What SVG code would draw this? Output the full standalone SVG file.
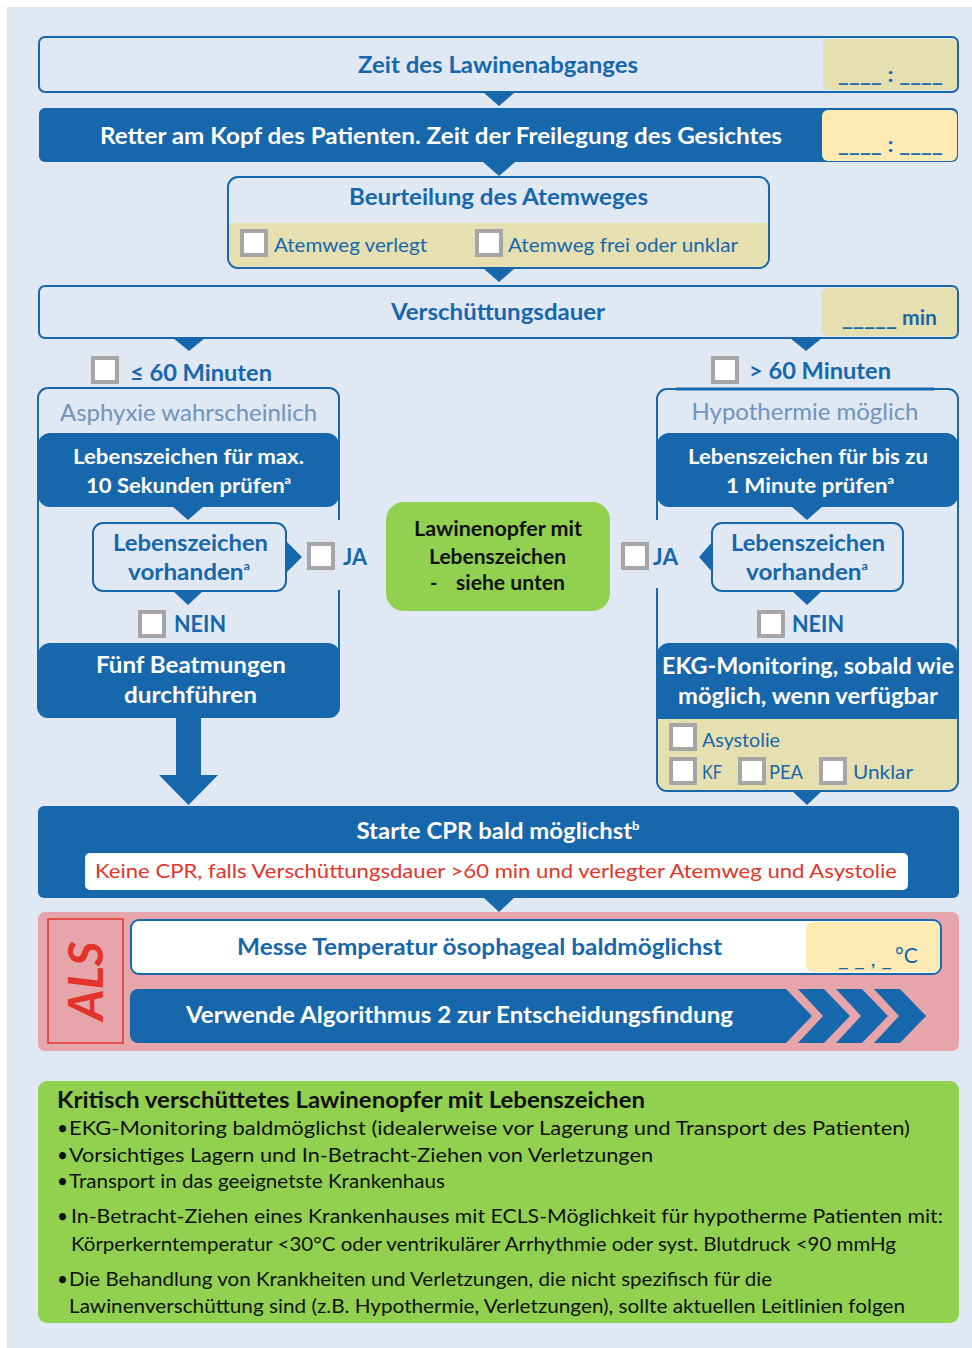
<svg xmlns="http://www.w3.org/2000/svg" width="972" height="1348" viewBox="0 0 972 1348">
<defs>
<style>
.t{font-family:Lato,"Open Sans","Liberation Sans",sans-serif}
.b{font-weight:bold}
.blue{fill:#1767ad}
.white{fill:#ffffff}
.pale{fill:#6f95bd}
.black{fill:#111111}
.red{fill:#e3342a}
.mid{text-anchor:middle}
.frame{fill:#dfe8f3;stroke:#1767ad;stroke-width:2}
.dark{fill:#1767ad}
.khaki{fill:#e6dfb0}
.yel{fill:#fdebb3}
.cb{fill:#ffffff;stroke:#a6a6a6;stroke-width:4}
.tri{fill:#1767ad}
</style>
</defs>
<rect x="7" y="7" width="965" height="1341" fill="#dfe8f3"/>

<g id="connectors">
<polygon class="tri" points="483,92 515,92 499,106"/>
<polygon class="tri" points="483,162 515,162 499,176"/>
<polygon class="tri" points="483,268 515,268 499,282"/>
<polygon class="tri" points="173,338 205,338 189,351"/>
<polygon class="tri" points="790,338 822,338 806,351"/>
<polygon class="tri" points="172,506 204,506 188,520"/>
<polygon class="tri" points="172,590 204,590 188,605"/>
<polygon class="tri" points="286,541 302,557 286,573"/>
<polygon class="tri" points="791,506 823,506 807,520"/>
<polygon class="tri" points="791,590 823,590 807,605"/>
<polygon class="tri" points="713,541 699,557 713,573"/>
<polygon class="tri" points="176,716 201,716 201,775 218,775 188.5,805 159,775 176,775"/>
<polygon class="tri" points="791,790 823,790 807,805"/>
<polygon class="tri" points="483,897 515,897 499,912"/>
<polygon class="tri" points="483,973 515,973 499,988"/>
</g>

<g id="n-zeit">
<rect class="frame" x="39" y="37" width="919" height="55" rx="6"/>
<rect class="khaki" x="823" y="39" width="134" height="51" rx="6"/>
<text class="t b blue mid" x="498" y="73" font-size="22" textLength="280" lengthAdjust="spacingAndGlyphs">Zeit des Lawinenabganges</text>
<text class="t b blue" x="838" y="82" font-size="20" textLength="105" lengthAdjust="spacingAndGlyphs">____ : ____</text>
</g>

<g id="n-retter">
<rect class="dark" x="39" y="108" width="919" height="54" rx="6"/>
<rect class="yel" x="822" y="110" width="135" height="51" rx="6"/>
<text class="t b white mid" x="441" y="144" font-size="22" textLength="682" lengthAdjust="spacingAndGlyphs">Retter am Kopf des Patienten. Zeit der Freilegung des Gesichtes</text>
<text class="t b blue" x="838" y="152" font-size="20" textLength="105" lengthAdjust="spacingAndGlyphs">____ : ____</text>
</g>

<g id="n-atemweg">
<path class="frame" d="M238,177 H759 A10,10 0 0 1 769,187 V258 A10,10 0 0 1 759,268 H238 A10,10 0 0 1 228,258 V187 A10,10 0 0 1 238,177 Z"/>
<path class="khaki" d="M229,223 H768 V258 A9,9 0 0 1 759,267 H238 A9,9 0 0 1 229,258 Z"/>
<text class="t b blue mid" x="498.5" y="205" font-size="22" textLength="299" lengthAdjust="spacingAndGlyphs">Beurteilung des Atemweges</text>
<rect class="cb" x="242" y="231" width="24" height="24"/>
<text class="t blue" x="274" y="252" font-size="20" textLength="153" lengthAdjust="spacingAndGlyphs">Atemweg verlegt</text>
<rect class="cb" x="477" y="231" width="24" height="24"/>
<text class="t blue" x="508" y="252" font-size="20" textLength="230" lengthAdjust="spacingAndGlyphs">Atemweg frei oder unklar</text>
</g>

<g id="n-dauer">
<rect class="frame" x="39" y="286" width="919" height="52" rx="6"/>
<rect class="khaki" x="822" y="288" width="135" height="48" rx="6"/>
<text class="t b blue mid" x="498" y="320" font-size="22" textLength="214" lengthAdjust="spacingAndGlyphs">Verschüttungsdauer</text>
<text class="t b blue" x="842" y="326" font-size="20" textLength="55" lengthAdjust="spacingAndGlyphs">_____</text>
<text class="t b blue" x="902" y="325" font-size="20" textLength="35" lengthAdjust="spacingAndGlyphs">min</text>
</g>

<g id="n-le60">
<rect class="cb" x="93" y="358" width="24" height="24"/>
<text class="t b blue" x="130" y="381" font-size="23" textLength="142" lengthAdjust="spacingAndGlyphs">≤ 60 Minuten</text>
</g>

<g id="n-gt60">
<rect class="cb" x="713" y="358" width="24" height="24"/>
<text class="t b blue" x="749" y="379" font-size="23" textLength="142" lengthAdjust="spacingAndGlyphs">&gt; 60 Minuten</text>
</g>

<g id="n-asphyxie">
<path d="M339,520 V398 A10,10 0 0 0 329,388 H48 A10,10 0 0 0 38,398 V707 A10,10 0 0 0 48,717 H329 A10,10 0 0 0 339,707 V590" fill="none" stroke="#1767ad" stroke-width="2"/>
<text class="t pale mid" x="188.5" y="421" font-size="23" textLength="257" lengthAdjust="spacingAndGlyphs">Asphyxie wahrscheinlich</text>
</g>

<g id="n-pruefen-links">
<rect class="dark" x="38" y="433" width="301" height="74" rx="12"/>
<text class="t b white mid" x="188.5" y="464" font-size="21" textLength="231" lengthAdjust="spacingAndGlyphs">Lebenszeichen für max.</text>
<text class="t b white mid" x="188.5" y="493" font-size="21" textLength="205" lengthAdjust="spacingAndGlyphs">10 Sekunden prüfen<tspan font-size="12" dy="-9">a</tspan></text>
</g>

<g id="n-vorhanden-links">
<rect class="frame" x="93" y="523" width="193" height="68" rx="10"/>
<text class="t b blue mid" x="190.5" y="551" font-size="23" textLength="155" lengthAdjust="spacingAndGlyphs">Lebenszeichen</text>
<text class="t b blue mid" x="189" y="580" font-size="23" textLength="122" lengthAdjust="spacingAndGlyphs">vorhanden<tspan font-size="12" dy="-10">a</tspan></text>
</g>

<g id="n-ja-links">
<rect class="cb" x="309" y="544" width="24" height="24"/>
<text class="t b blue" x="343" y="565" font-size="22" textLength="24" lengthAdjust="spacingAndGlyphs">JA</text>
</g>

<g id="n-nein-links">
<rect class="cb" x="140" y="612" width="24" height="24"/>
<text class="t b blue" x="174" y="632" font-size="22" textLength="52" lengthAdjust="spacingAndGlyphs">NEIN</text>
</g>

<g id="n-beatmungen">
<rect class="dark" x="38" y="643" width="302" height="74" rx="12"/>
<text class="t b white mid" x="191" y="673" font-size="22" textLength="190" lengthAdjust="spacingAndGlyphs">Fünf Beatmungen</text>
<text class="t b white mid" x="190.5" y="703" font-size="22" textLength="133" lengthAdjust="spacingAndGlyphs">durchführen</text>
</g>

<g id="n-lawinenopfer">
<rect x="386" y="502" width="224" height="109" rx="18" fill="#92d050"/>
<text class="t b black mid" x="498" y="536" font-size="20" textLength="168" lengthAdjust="spacingAndGlyphs">Lawinenopfer mit</text>
<text class="t b black mid" x="497.5" y="564" font-size="20" textLength="137" lengthAdjust="spacingAndGlyphs">Lebenszeichen</text>
<text class="t b black" x="430" y="590" font-size="20">-</text>
<text class="t b black" x="456" y="590" font-size="20" textLength="109" lengthAdjust="spacingAndGlyphs">siehe unten</text>
</g>

<g id="n-hypothermie">
<path d="M657,588 V781 A10,10 0 0 0 667,791 H948 A10,10 0 0 0 958,781 V399 A10,10 0 0 0 948,389 H667 A10,10 0 0 0 657,399 V520" fill="none" stroke="#1767ad" stroke-width="2"/>
<line x1="676" y1="389" x2="934" y2="389" stroke="#1767ad" stroke-width="3"/>
<text class="t pale mid" x="805" y="420" font-size="23" textLength="227" lengthAdjust="spacingAndGlyphs">Hypothermie möglich</text>
</g>

<g id="n-pruefen-rechts">
<rect class="dark" x="657" y="433" width="301" height="74" rx="12"/>
<text class="t b white mid" x="808" y="464" font-size="21" textLength="240" lengthAdjust="spacingAndGlyphs">Lebenszeichen für bis zu</text>
<text class="t b white mid" x="810" y="493" font-size="21" textLength="168" lengthAdjust="spacingAndGlyphs">1 Minute prüfen<tspan font-size="12" dy="-9">a</tspan></text>
</g>

<g id="n-vorhanden-rechts">
<rect class="frame" x="712" y="523" width="191" height="68" rx="10"/>
<text class="t b blue mid" x="808" y="551" font-size="23" textLength="154" lengthAdjust="spacingAndGlyphs">Lebenszeichen</text>
<text class="t b blue mid" x="807" y="580" font-size="23" textLength="122" lengthAdjust="spacingAndGlyphs">vorhanden<tspan font-size="12" dy="-10">a</tspan></text>
</g>

<g id="n-ja-rechts">
<rect class="cb" x="623" y="544" width="24" height="24"/>
<text class="t b blue" x="653" y="565" font-size="22" textLength="25" lengthAdjust="spacingAndGlyphs">JA</text>
</g>

<g id="n-nein-rechts">
<rect class="cb" x="759" y="612" width="24" height="24"/>
<text class="t b blue" x="792" y="632" font-size="22" textLength="52" lengthAdjust="spacingAndGlyphs">NEIN</text>
</g>

<g id="n-ekg">
<path class="dark" d="M669,643 H946 A12,12 0 0 1 958,655 V719 H657 V655 A12,12 0 0 1 669,643 Z"/>
<path class="khaki" d="M658,719 H957 V781 A9,9 0 0 1 948,790 H667 A9,9 0 0 1 658,781 Z"/>
<text class="t b white mid" x="808" y="674" font-size="22" textLength="292" lengthAdjust="spacingAndGlyphs">EKG-Monitoring, sobald wie</text>
<text class="t b white mid" x="808" y="704" font-size="22" textLength="260" lengthAdjust="spacingAndGlyphs">möglich, wenn verfügbar</text>
<rect class="cb" x="671" y="725" width="24" height="24"/>
<text class="t blue" x="702" y="747" font-size="20" textLength="78" lengthAdjust="spacingAndGlyphs">Asystolie</text>
<rect class="cb" x="671" y="759" width="24" height="24"/>
<text class="t blue" x="702" y="779" font-size="20" textLength="20" lengthAdjust="spacingAndGlyphs">KF</text>
<rect class="cb" x="740" y="759" width="24" height="24"/>
<text class="t blue" x="769" y="779" font-size="20" textLength="34" lengthAdjust="spacingAndGlyphs">PEA</text>
<rect class="cb" x="821" y="759" width="24" height="24"/>
<text class="t blue" x="853" y="779" font-size="20" textLength="60" lengthAdjust="spacingAndGlyphs">Unklar</text>
</g>

<g id="n-cpr">
<rect class="dark" x="38" y="806" width="921" height="92" rx="6"/>
<rect x="85" y="853" width="823" height="37" rx="5" fill="#ffffff"/>
<text class="t b white mid" x="498" y="839" font-size="22" textLength="283" lengthAdjust="spacingAndGlyphs">Starte CPR bald möglichst<tspan font-size="12" dy="-9">b</tspan></text>
<text class="t red mid" x="496" y="878" font-size="20" textLength="802" lengthAdjust="spacingAndGlyphs">Keine CPR, falls Verschüttungsdauer &gt;60 min und verlegter Atemweg und Asystolie</text>
</g>

<g id="n-als">
<rect x="38" y="912" width="921" height="139" rx="7" fill="#e6a5ab"/>
<rect x="48" y="919" width="75" height="124" fill="none" stroke="#e3342a" stroke-width="1.5"/>
<text class="t b red mid" font-size="48" font-style="italic" transform="translate(103,981) rotate(-90)">ALS</text>
</g>

<g id="n-temperatur">
<rect x="131" y="920" width="810" height="54" rx="8" fill="#ffffff" stroke="#1767ad" stroke-width="2"/>
<rect class="yel" x="806" y="922" width="134" height="50" rx="7"/>
<text class="t b blue mid" x="479.5" y="955" font-size="22" textLength="485" lengthAdjust="spacingAndGlyphs">Messe Temperatur ösophageal baldmöglichst</text>
<text class="t blue" x="838" y="966" font-size="20" textLength="54" lengthAdjust="spacingAndGlyphs">_ _ , _</text>
<text class="t blue" x="895" y="963" font-size="21">°C</text>
</g>

<g id="n-algorithmus">
<path class="dark" d="M138,989 H786 L812,1016 L786,1043 H138 A8,8 0 0 1 130,1035 V997 A8,8 0 0 1 138,989 Z"/>
<polygon class="dark" points="798,989 824,989 850,1016 824,1043 798,1043 823,1016"/>
<polygon class="dark" points="836,989 862,989 888,1016 862,1043 836,1043 861,1016"/>
<polygon class="dark" points="874,989 900,989 926,1016 900,1043 874,1043 899,1016"/>
<text class="t b white mid" x="459.5" y="1023" font-size="22" textLength="547" lengthAdjust="spacingAndGlyphs">Verwende Algorithmus 2 zur Entscheidungsfindung</text>
</g>

<g id="n-kritisch">
<rect x="38" y="1081" width="921" height="242" rx="9" fill="#92d050"/>
<text class="t b black" x="57" y="1108" font-size="22" textLength="588" lengthAdjust="spacingAndGlyphs">Kritisch verschüttetes Lawinenopfer mit Lebenszeichen</text>
<text class="t black" x="57" y="1135" font-size="19">•</text>
<text class="t black" x="69" y="1135" font-size="19.5" textLength="841" lengthAdjust="spacingAndGlyphs">EKG-Monitoring baldmöglichst (idealerweise vor Lagerung und Transport des Patienten)</text>
<text class="t black" x="57" y="1162" font-size="19">•</text>
<text class="t black" x="69" y="1162" font-size="19.5" textLength="584" lengthAdjust="spacingAndGlyphs">Vorsichtiges Lagern und In-Betracht-Ziehen von Verletzungen</text>
<text class="t black" x="57" y="1188" font-size="19">•</text>
<text class="t black" x="69" y="1188" font-size="19.5" textLength="376" lengthAdjust="spacingAndGlyphs">Transport in das geeignetste Krankenhaus</text>
<text class="t black" x="57" y="1223" font-size="19">•</text>
<text class="t black" x="71" y="1223" font-size="19.5" textLength="872" lengthAdjust="spacingAndGlyphs">In-Betracht-Ziehen eines Krankenhauses mit ECLS-Möglichkeit für hypotherme Patienten mit:</text>
<text class="t black" x="71" y="1251" font-size="19.5" textLength="825" lengthAdjust="spacingAndGlyphs">Körperkerntemperatur &lt;30°C oder ventrikulärer Arrhythmie oder syst. Blutdruck &lt;90 mmHg</text>
<text class="t black" x="57" y="1286" font-size="19">•</text>
<text class="t black" x="69" y="1286" font-size="19.5" textLength="703" lengthAdjust="spacingAndGlyphs">Die Behandlung von Krankheiten und Verletzungen, die nicht spezifisch für die</text>
<text class="t black" x="69" y="1313" font-size="19.5" textLength="836" lengthAdjust="spacingAndGlyphs">Lawinenverschüttung sind (z.B. Hypothermie, Verletzungen), sollte aktuellen Leitlinien folgen</text>
</g>
</svg>
